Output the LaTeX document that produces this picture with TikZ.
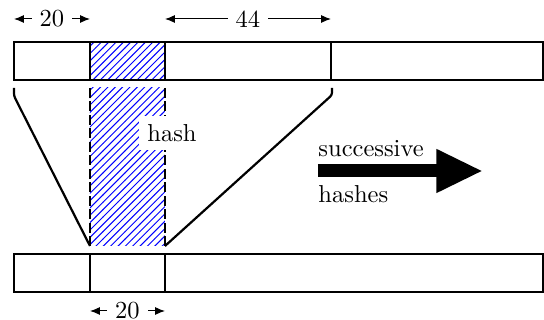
\documentclass[tikz,border=0pt]{standalone}
\usetikzlibrary{patterns,arrows.meta}
\begin{document}
\begin{tikzpicture}[x=0.408pt,y=-0.408pt,
  bar/.style={draw,line width=0.45pt},
  dimline/.style={line width=0.4pt,{Latex[length=4pt,width=3.2pt]}-{Latex[length=4pt,width=3.2pt]}},
  dimlabel/.style={fill=white,inner xsep=3.3pt,inner ysep=0.5pt},
  funnel/.style={line width=0.9pt,rounded corners=1pt},
  hatch/.style={pattern=north east lines,pattern color=blue},
  bigarrow/.style={line width=5.3pt,-{Triangle[length=19pt,width=16.5pt]}}]
\useasboundingbox (0,0) rectangle (544,320);

% upper buffer
\coordinate (ua) at (14,42);  \coordinate (ub) at (543,80);
\fill[hatch] (90,42) rectangle (165,80);
\draw[bar] (ua) rectangle (ub);
\draw[bar] (90,42) -- (90,80);
\draw[bar] (165,42) -- (165,80);
\draw[bar] (331,42) -- (331,80);

% lower buffer
\coordinate (la) at (14,254); \coordinate (lb) at (543,292);
\draw[bar] (la) rectangle (lb);
\draw[bar] (90,254) -- (90,292);
\draw[bar] (165,254) -- (165,292);

% hashed window
\fill[hatch] (90,88) rectangle (165,246);
\coordinate (wtl) at (90,88);  \coordinate (wbl) at (90,246);
\coordinate (wtr) at (165,88); \coordinate (wbr) at (165,246);
\draw[dash pattern=on 4pt off 1.5pt,line width=0.5pt] (wtl) -- (wbl);
\draw[dash pattern=on 4pt off 1.5pt,line width=0.5pt] (wtr) -- (wbr);
\node[fill=white,inner sep=3.3pt] (hash) at (172,133) {hash};

% funnel lines
\coordinate (fl) at (14,88); \coordinate (fr) at (332,88);
\draw[funnel] (fl) -- (14,96) -- (wbl);
\draw[funnel] (fr) -- (332,95) -- (wbr);

% dimensions
\coordinate (d1a) at (14,19);  \coordinate (d1b) at (90,19);
\coordinate (d2a) at (165,19); \coordinate (d2b) at (331,19);
\coordinate (d3a) at (90,311); \coordinate (d3b) at (165,311);
\draw[dimline] (d1a) -- (d1b);
\draw[dimline] (d2a) -- (d2b);
\draw[dimline] (d3a) -- (d3b);
\node[dimlabel] (w1) at (52,19) {20};
\node[dimlabel] (w2) at (248,19) {44};
\node[dimlabel] (w3) at (127.5,311) {20};

% successive hashes
\coordinate (sa) at (318,171); \coordinate (sb) at (483,171);
\draw[bigarrow] (sa) -- (sb);
\node[anchor=base west,inner sep=0pt] (succ) at (318,157) {successive};
\node[anchor=base west,inner sep=0pt] (hs) at (318,203) {hashes};
\end{tikzpicture}
\end{document}
